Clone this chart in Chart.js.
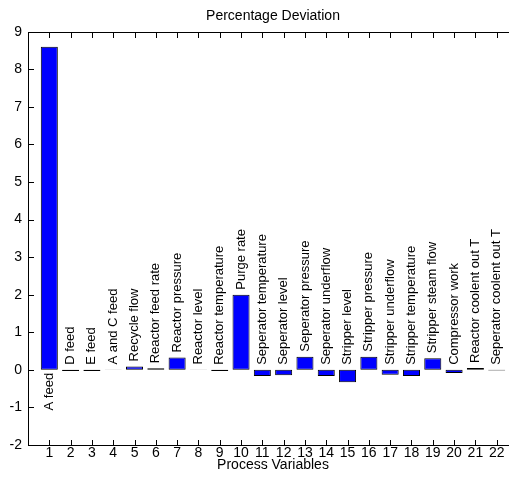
<!DOCTYPE html>
<html>
<head>
<meta charset="utf-8">
<script src="https://cdn.jsdelivr.net/npm/chart.js@4/dist/chart.umd.min.js"></script>
<style>
  html, body { margin: 0; padding: 0; background: #fff; overflow: hidden; }
  #wrap { width: 530px; height: 487px; }
</style>
</head>
<body>
<div id="wrap"><canvas id="myChart"></canvas></div>
<script>
// process variables 1..22 and their % deviation
const positions = [1, 2, 3, 4, 5, 6, 7, 8, 9, 10, 11, 12, 13, 14, 15, 16, 17, 18, 19, 20, 21, 22];
const names = [
  "A feed", "D feed", "E feed", "A and C feed", "Recycle flow", "Reactor feed rate",
  "Reactor pressure", "Reactor level", "Reactor temperature", "Purge rate",
  "Seperator temperature", "Seperator level", "Seperator pressure", "Seperator underflow",
  "Stripper level", "Stripper pressure", "Stripper underflow", "Stripper temperature",
  "Stripper steam flow", "Compressor work", "Reactor coolent out T", "Seperator coolent out T"
];
const deviation = [
  8.60, -0.03, -0.03, 0.01, 0.09, 0.04, 0.33, 0.01, -0.03, 2.00,
  -0.16, -0.14, 0.35, -0.16, -0.33, 0.35, -0.13, -0.16, 0.31, -0.08, 0.05, -0.02
];
const yTicks = [-2, -1, 0, 1, 2, 3, 4, 5, 6, 7, 8, 9];

const FONT = "'Liberation Sans', Arial, sans-serif";

// matlab style box with inward ticks (1px rects so they stay crisp)
const boxPlugin = {
  id: "matlabBox",
  afterDraw(chart) {
    const { ctx, chartArea: a, scales: { x, y } } = chart;
    const l = Math.round(a.left), r = Math.round(a.right);
    const t = Math.round(a.top), b = Math.round(a.bottom);
    ctx.save();
    ctx.fillStyle = "#000";
    ctx.fillRect(l, t, r - l + 1, 1);
    ctx.fillRect(l, b, r - l + 1, 1);
    ctx.fillRect(l, t, 1, b - t + 1);
    ctx.fillRect(r, t, 1, b - t + 1);
    positions.forEach(p => {
      const px = Math.round(x.getPixelForValue(p));
      ctx.fillRect(px, b - 5, 1, 5);
      ctx.fillRect(px, t + 1, 1, 5);
    });
    yTicks.forEach(v => {
      const py = Math.round(y.getPixelForValue(v));
      ctx.fillRect(l + 1, py, 5, 1);
      ctx.fillRect(r - 5, py, 5, 1);
    });
    ctx.restore();
  }
};

// vertical names above each bar (or below zero if no room)
const namesPlugin = {
  id: "names",
  afterDatasetsDraw(chart) {
    const { ctx, chartArea: a, scales: { x, y } } = chart;
    ctx.save();
    ctx.font = "13px " + FONT;
    ctx.fillStyle = "#000";
    ctx.textBaseline = "middle";
    names.forEach((n, i) => {
      const px = x.getPixelForValue(positions[i]);
      const w = ctx.measureText(n).width;
      let py = y.getPixelForValue(Math.max(deviation[i], 0)) - 5;
      ctx.save();
      if (py - w < a.top) {
        py = y.getPixelForValue(0) + 3;
        ctx.translate(px, py);
        ctx.rotate(-Math.PI / 2);
        ctx.textAlign = "right";
      } else {
        ctx.translate(px, py);
        ctx.rotate(-Math.PI / 2);
        ctx.textAlign = "left";
      }
      ctx.fillText(n, 0, 0);
      ctx.restore();
    });
    ctx.restore();
  }
};

const ctx = document.getElementById("myChart");
new Chart(ctx, {
  type: "bar",
  data: {
    datasets: [
      {
        data: positions.map((p, i) => ({ x: p, y: deviation[i] })),
        backgroundColor: "#0000ff",
        borderColor: "#000",
        borderWidth: 1,
        borderSkipped: false,
        barPercentage: 0.8,
        categoryPercentage: 1,
      },
    ],
  },
  options: {
    responsive: true,
    maintainAspectRatio: false,
    animation: false,
    layout: { padding: { left: 0, right: 12, top: 0, bottom: 0 } },
    plugins: {
      legend: { display: false },
      tooltip: { enabled: false },
      title: {
        display: true,
        text: "Percentage Deviation",
        fullSize: false,
        color: "#000",
        font: { family: FONT, size: 14, weight: "normal", lineHeight: 1.2 },
        padding: { top: 8, bottom: 7 },
      },
    },
    scales: {
      x: {
        type: "linear",
        offset: false,
        min: 0,
        max: 23,
        grid: { display: false, drawTicks: false },
        border: { display: false },
        afterFit(s) { s.height = 42; },
        afterBuildTicks(s) { s.ticks = positions.map(p => ({ value: p })); },
        ticks: {
          autoSkip: false,
          maxRotation: 0,
          padding: 0,
          color: "#000",
          font: { family: FONT, size: 14 },
        },
        title: {
          display: true,
          text: "Process Variables",
          color: "#000",
          font: { family: FONT, size: 14 },
          padding: { top: 0, bottom: 13 },
        },
      },
      y: {
        min: -2,
        max: 9,
        grid: { display: false, drawTicks: false },
        border: { display: false },
        afterFit(s) { s.width = 28; },
        afterBuildTicks(s) { s.ticks = yTicks.map(v => ({ value: v })); },
        ticks: {
          padding: 6,
          color: "#000",
          font: { family: FONT, size: 14 },
        },
      },
    },
  },
  plugins: [boxPlugin, namesPlugin],
});
</script>
</body>
</html>
